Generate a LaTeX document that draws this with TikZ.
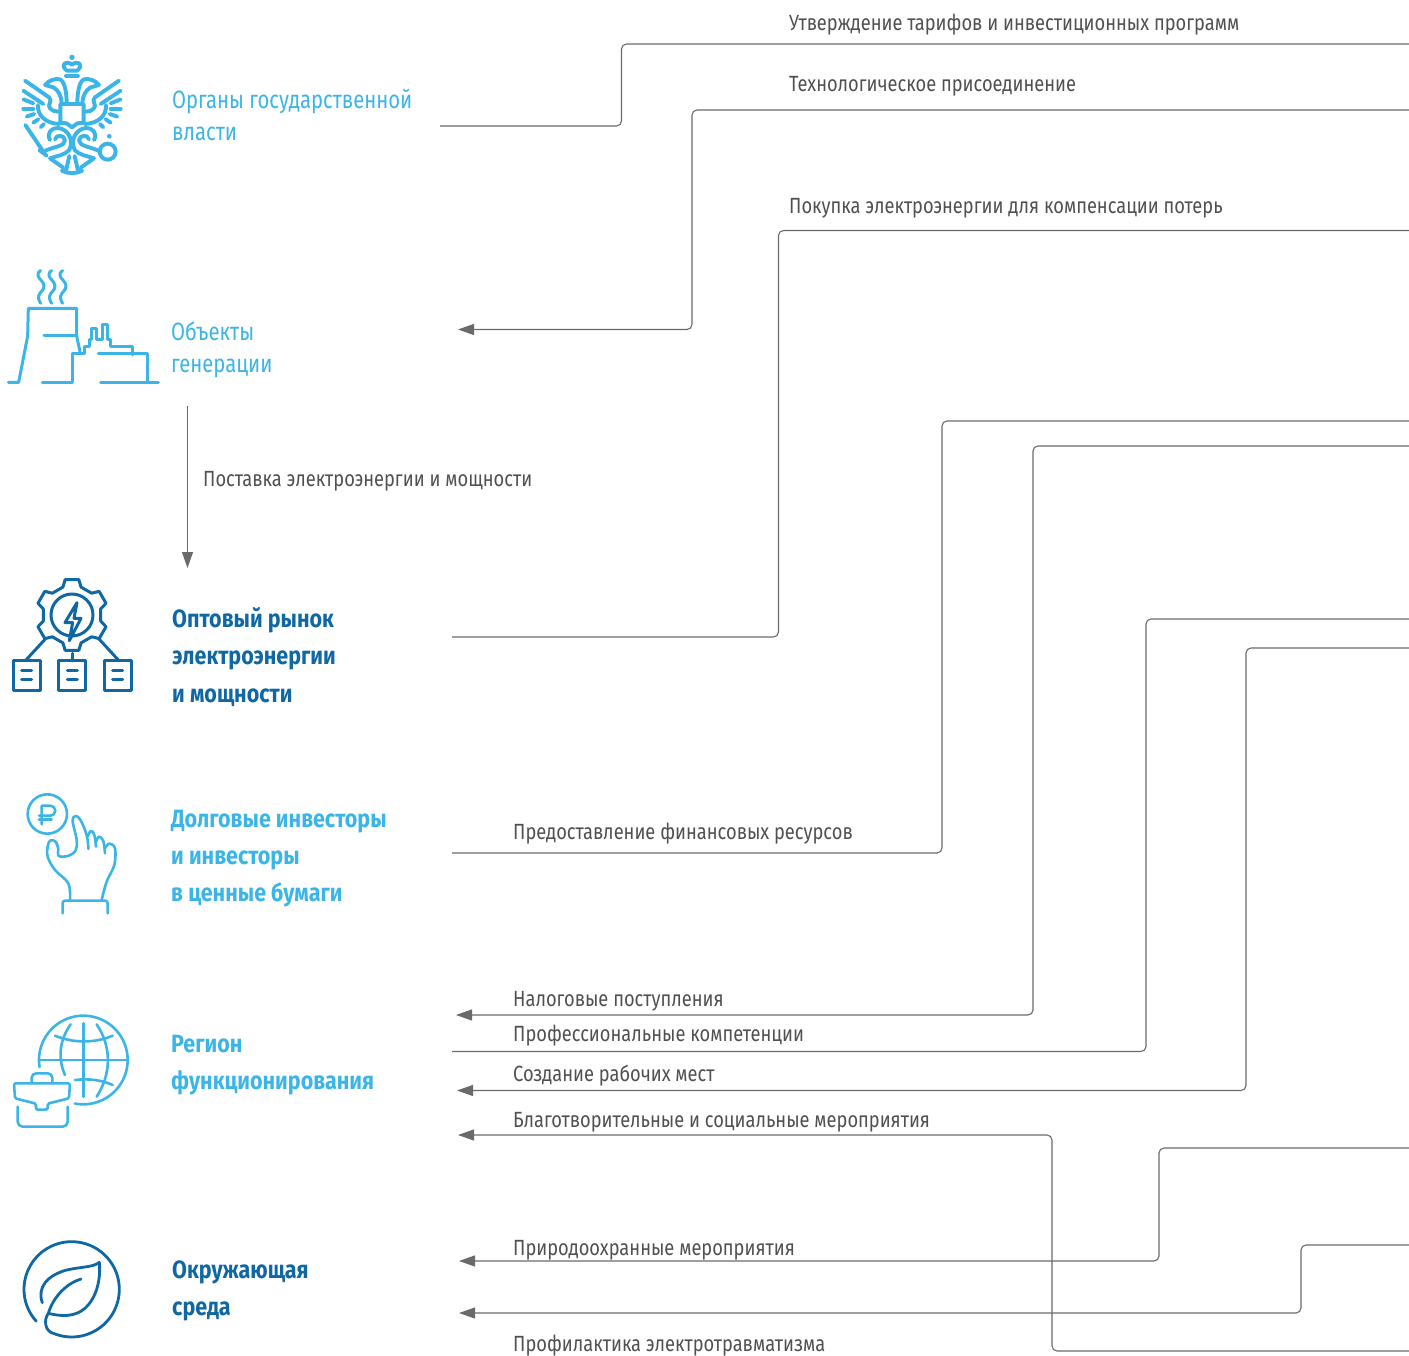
\documentclass[tikz,border=0pt]{standalone}
\usepackage{fontspec}
\setmainfont{Fira Sans}
\newfontfamily\flowfont[FakeStretch=0.83]{Fira Sans}
\newfontfamily\entfont[FakeStretch=0.81]{Fira Sans}
\newfontfamily\entbfont[FakeStretch=0.86,BoldFont={Fira Sans Bold}]{Fira Sans}
\usetikzlibrary{arrows.meta}
\definecolor{cyanic}{HTML}{3BB5E8}
\definecolor{deepblue}{HTML}{0F67A3}
\definecolor{linegray}{HTML}{6A6A6A}
\definecolor{textgray}{HTML}{505050}
\tikzset{
  conn/.style={draw=linegray,line width=1.1pt,rounded corners=5pt},
  connarrow/.style={conn,-{Triangle[length=16pt,width=11pt,fill=linegray]}},
  flowlabel/.style={anchor=base west,inner sep=0pt,text=textgray,font=\flowfont\fontsize{22}{26}\selectfont},
  entity/.style={anchor=base west,inner sep=0pt,align=left,font=\entfont\fontsize{25}{32}\selectfont},
  entitybold/.style={anchor=base west,inner sep=0pt,align=left,font=\entbfont\fontsize{25}{37.5}\selectfont\bfseries},
  icon/.style={x=0.3333pt,y=-0.3333pt,line cap=round,line join=round}
}
\begin{document}
\begin{tikzpicture}[x=1pt,y=-1pt]
\useasboundingbox (0,0) rectangle (1409,1356);

% ---- entity labels
\node[entity,text=cyanic] (gov) at (172,109) {Органы государственной};
\node[entity,text=cyanic] (gov2) at (172,141) {власти};
\node[entity,text=cyanic] (gen) at (171,341) {Объекты};
\node[entity,text=cyanic] (gen2) at (171,373) {генерации};
\node[entitybold,text=deepblue] (mkt) at (172,627) {Оптовый рынок};
\node[entitybold,text=deepblue] (mkt2) at (172,664) {электроэнергии};
\node[entitybold,text=deepblue] (mkt3) at (172,702) {и мощности};
\node[entitybold,text=cyanic] (inv) at (171,827) {Долговые инвесторы};
\node[entitybold,text=cyanic] (inv2) at (171,864) {и инвесторы};
\node[entitybold,text=cyanic] (inv3) at (171,901) {в ценные бумаги};
\node[entitybold,text=cyanic] (reg) at (171,1052) {Регион};
\node[entitybold,text=cyanic] (reg2) at (171,1089) {функционирования};
\node[entitybold,text=deepblue] (env) at (172,1278) {Окружающая};
\node[entitybold,text=deepblue] (env2) at (172,1315) {среда};

% ---- flow labels
\node[flowlabel] (l1) at (789,31) {Утверждение тарифов и инвестиционных программ};
\node[flowlabel] (l2) at (789,92) {Технологическое присоединение};
\node[flowlabel] (l3) at (789,214) {Покупка электроэнергии для компенсации потерь};
\node[flowlabel] (l4) at (203,486) {Поставка электроэнергии и мощности};
\node[flowlabel] (l5) at (513,839) {Предоставление финансовых ресурсов};
\node[flowlabel] (l6) at (513,1006) {Налоговые поступления};
\node[flowlabel] (l7) at (513,1041) {Профессиональные компетенции};
\node[flowlabel] (l8) at (513,1081) {Создание рабочих мест};
\node[flowlabel] (l9) at (513,1127) {Благотворительные и социальные мероприятия};
\node[flowlabel] (l10) at (513,1255) {Природоохранные мероприятия};
\node[flowlabel] (l11) at (513,1351) {Профилактика электротравматизма};

% ---- connector ends
\foreach \n/\x/\y in {
  a1/440/126, b1/1409/44, t1/621.5/0,
  a2/1409/110, b2/458/329.5, t2/692/0,
  a3/452/637, b3/1409/230.5, t3/778.5/0,
  a4/452/853, b4/1409/421, t4/942/0,
  a5/1409/446, b5/456/1015, t5/1033/0,
  a6/452/1051.5, b6/1409/619, t6/1146/0,
  a7/1409/648, b7/457/1090.5, t7/1246/0,
  a8/1409/1351, b8/458/1135, t8/1052/0,
  a9/1409/1148, b9/459/1261, t9/1159/0,
  a10/1409/1245, b10/459/1313, t10/1301/0,
  a11/187.5/406, b11/187.5/568}{\coordinate (\n) at (\x,\y);}

\draw[conn] (a1) -- (a1 -| t1) -- (t1 |- b1) -- (b1);
\draw[connarrow] (a2) -- (a2 -| t2) -- (t2 |- b2) -- (b2);
\draw[conn] (a3) -- (a3 -| t3) -- (t3 |- b3) -- (b3);
\draw[conn] (a4) -- (a4 -| t4) -- (t4 |- b4) -- (b4);
\draw[connarrow] (a5) -- (a5 -| t5) -- (t5 |- b5) -- (b5);
\draw[conn] (a6) -- (a6 -| t6) -- (t6 |- b6) -- (b6);
\draw[connarrow] (a7) -- (a7 -| t7) -- (t7 |- b7) -- (b7);
\draw[connarrow] (a8) -- (a8 -| t8) -- (t8 |- b8) -- (b8);
\draw[connarrow] (a9) -- (a9 -| t9) -- (t9 |- b9) -- (b9);
\draw[connarrow] (a10) -- (a10 -| t10) -- (t10 |- b10) -- (b10);
\draw[connarrow] (a11) -- (b11);

% ---- eagle icon
\begin{scope}[shift={(0,40)},icon,draw=cyanic,line width=3.9pt]
  \fill[cyanic] (216,52) circle (8);
  \draw (200,92) .. controls (185,80) and (190,68) .. (203,68) .. controls (210,68) and (212,72) .. (216,75) .. controls (220,72) and (222,68) .. (229,68) .. controls (242,68) and (247,80) .. (232,92) -- cycle;
  \draw (198,108) -- (234,108);
  \draw (181,192) -- (251,192) -- (251,248) -- (232,250) -- (216,262) -- (200,250) -- (181,248) -- cycle;
  \foreach \m in {0,1}{
  \begin{scope}[shift={(432*\m,0)},xscale={1-2*\m}]
    \draw (75,122) -- (147,172) .. controls (160,182) and (140,195) .. (150,205) .. controls (155,212) and (165,215) .. (175,215);
    \draw (70,152) -- (130,192);
    \draw (114,195) .. controls (112,225) and (135,250) .. (178,252);
    \draw (70,178) -- (100,190);
    \draw (70,207) -- (100,207);
    \draw (80,230) -- (103,222);
    \draw (100,248) -- (115,238);
    \draw (122,262) -- (132,252);
    \draw (135,135) .. controls (145,122) and (165,114) .. (180,118) .. controls (195,125) and (200,160) .. (200,190);
    \draw (135,135) -- (160,142) .. controls (175,150) and (185,170) .. (185,190);
    \draw (150,300) .. controls (138,280) and (155,262) .. (175,264) .. controls (205,268) and (222,300) .. (208,330) .. controls (195,345) and (170,348) .. (150,355) -- (190,383);
    \draw (165,298) .. controls (168,282) and (195,285) .. (195,302) .. controls (192,320) and (165,318) .. (130,335);
    \draw (208,348) -- (198,392);
  \end{scope}}
  \draw (185,392) .. controls (205,402) and (227,402) .. (247,392);
  \draw (76,255) -- (130,335);
  \draw (118,330) -- (140,347);
  \draw (323,335) circle (24);
  \fill[cyanic] (328,289) circle (7);
\end{scope}

% ---- power plant icon
\begin{scope}[shift={(0,260)},icon,draw=cyanic,line width=3pt]
  \foreach \d in {0,33,66}{
    \draw[shift={(\d,0)}] plot[smooth,tension=.8] coordinates {(122,32) (114,47) (132,78) (116,108) (122,130)};
  }
  \draw (25,367) -- (56,367) -- (83,228) -- (85,145) -- (230,145) -- (230,228) -- (240,275);
  \draw (132,228) -- (228,228);
  \draw (127,367) -- (217,367) -- (217,282) -- (255,282) -- (255,260) -- (268,260) -- (268,240) -- (275,240) -- (275,205) -- (290,205) -- (290,240) -- (307,240) -- (307,195) -- (322,195) -- (322,240) -- (332,240) -- (332,260) -- (397,260) -- (397,285);
  \draw (295,282) -- (443,282) -- (443,367);
  \draw (302,367) -- (475,367);
\end{scope}

% ---- gear icon
\begin{scope}[shift={(0,570)},icon,draw=deepblue,line width=3pt]
  \begin{scope}[shift={(216,135)}]
    \foreach \a in {90,150,210,270,330,390}{
      \draw (\a-18:88) -- (\a-11:108) -- (\a+11:108) -- (\a+18:88) -- (\a+42:88);
    }
    \draw (0,0) circle (63);
  \end{scope}
  \draw (231,98) -- (195,158) -- (218,158) -- (208,212) -- (243,145) -- (222,145) -- cycle;
  \draw (78,270) -- (135,208);
  \draw (217,250) -- (217,273);
  \draw (355,270) -- (298,208);
  \foreach \x in {40,177,313}{
    \draw (\x,273) rectangle (\x+81,362);
    \draw (\x+25,303) -- (\x+55,303);
    \draw (\x+25,330) -- (\x+55,330);
  }
\end{scope}

% ---- hand icon
\begin{scope}[shift={(10,785)},icon,draw=cyanic,line width=2.6pt]
  \draw (112,87) circle (59);
  \draw (95,118) -- (95,62) -- (118,62) .. controls (142,62) and (142,92) .. (118,92) -- (87,92);
  \draw (87,104) -- (125,104);
  \draw plot[smooth,tension=.6] coordinates {(180,345) (175,295) (135,255) (113,215) (114,180) (122,166) (137,170) (145,192) (145,212) (170,214) (196,198) (200,165) (188,108) (197,93) (210,103) (225,135) (233,165) (235,192)};
  \draw plot[smooth,tension=.6] coordinates {(232,155) (243,138) (253,150) (258,185)};
  \draw plot[smooth,tension=.6] coordinates {(258,170) (267,155) (280,168) (285,205)};
  \draw plot[smooth,tension=.6] coordinates {(285,190) (298,176) (315,190) (313,240) (290,290) (275,345)};
  \draw[rounded corners=2.5pt] (158,385) -- (158,347) -- (293,347) -- (293,385);
\end{scope}

% ---- globe icon
\begin{scope}[shift={(0,1005)},icon,draw=cyanic,line width=2.6pt]
  \draw plot[domain=171:461,samples=80] ({250+133*cos(\x)},{165+133*sin(\x)});
  \draw (250,55) -- (250,275);
  \draw (118,165) -- (383,165);
  \draw (165,92) .. controls (220,115) and (285,115) .. (338,92);
  \draw (225,225) .. controls (265,220) and (305,225) .. (338,240);
  \draw (212,58) .. controls (175,110) and (175,165) .. (195,210);
  \draw (290,58) .. controls (335,125) and (335,205) .. (290,275);
  \draw[rounded corners=4.5pt] (95,233) -- (95,205) -- (157,205) -- (157,233);
  \draw[rounded corners=1.5pt] (42,235) -- (210,235) -- (207,280) -- (143,296) -- (143,314) -- (108,314) -- (108,296) -- (45,280) -- cycle;
  \draw[rounded corners=5pt] (53,305) -- (53,365) -- (203,365) -- (203,305);
\end{scope}

% ---- leaf icon
\begin{scope}[shift={(10,1230)},icon,draw=deepblue,line width=2.8pt]
  \draw plot[domain=138:472,samples=80] ({185+143*cos(\x)},{178+143*sin(\x)}) .. controls (105,305) and (100,270) .. (115,250) .. controls (130,200) and (170,160) .. (213,147);
  \draw (97,218) .. controls (80,170) and (115,135) .. (170,120) .. controls (215,110) and (250,112) .. (268,97) .. controls (275,170) and (245,240) .. (190,253) .. controls (165,260) and (135,255) .. (115,250);
\end{scope}
\end{tikzpicture}
\end{document}
